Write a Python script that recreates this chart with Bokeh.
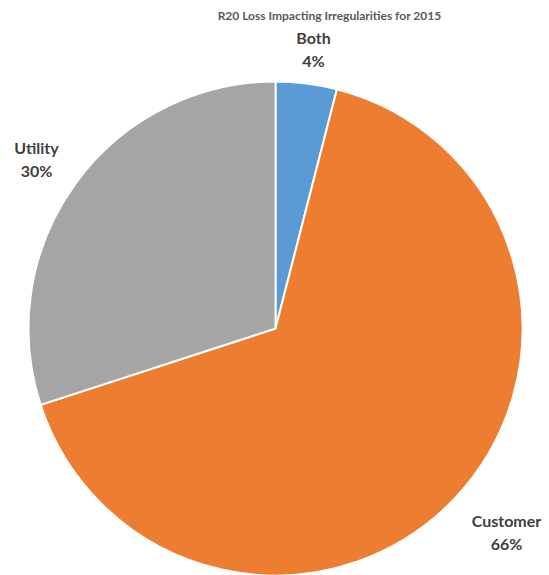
import math
from bokeh.plotting import figure
from bokeh.models import Range1d, ColumnDataSource
from bokeh.core.properties import value
from bokeh.embed import file_html
from bokeh.resources import INLINE

categories = ["Both", "Customer", "Utility"]
percents = [4, 66, 30]
colors = ["#5B9BD5", "#ED7D31", "#A5A5A5"]
title_text = "R20 Loss Impacting Irregularities for 2015"

W, H = 549, 575
cx, cy = 275, H - 328
R = 247

# clockwise from 12 o'clock
starts, ends = [], []
cur = math.pi / 2
for pct in percents:
    sweep = pct / 100 * 2 * math.pi
    ends.append(cur)
    starts.append(cur - sweep)
    cur -= sweep

src = ColumnDataSource(dict(start=starts, end=ends, color=colors, cat=categories))

p = figure(width=W, height=H, output_backend="svg", toolbar_location=None,
           x_range=Range1d(0, W), y_range=Range1d(0, H), min_border=0)
p.axis.visible = False
p.grid.visible = False
p.outline_line_color = None
p.background_fill_color = "white"
p.border_fill_color = "white"

p.wedge(x=cx, y=cy, radius=R, start_angle="start", end_angle="end",
        fill_color="color", line_color="white", line_width=2, source=src)

# labels
label_pos = [(313, 37), (506, 520), (36, 147)]
lx, ly, lt = [], [], []
for (x, y), cat, pct in zip(label_pos, categories, percents):
    lx += [x, x]
    ly += [H - y, H - (y + 23)]
    lt += [cat, f"{pct}%"]
p.text(x=lx, y=ly, text=lt, text_align="center", text_baseline="middle",
       text_font=value("Lato"), text_font_style="bold",
       text_font_size="16px", text_color="#404040")

p.text(x=[329], y=[H - 15], text=[title_text], text_align="center",
       text_baseline="middle", text_font=value("Lato"),
       text_font_style="bold", text_font_size="12px", text_color="#595959")

open("out.html", "w").write(file_html(p, INLINE))
